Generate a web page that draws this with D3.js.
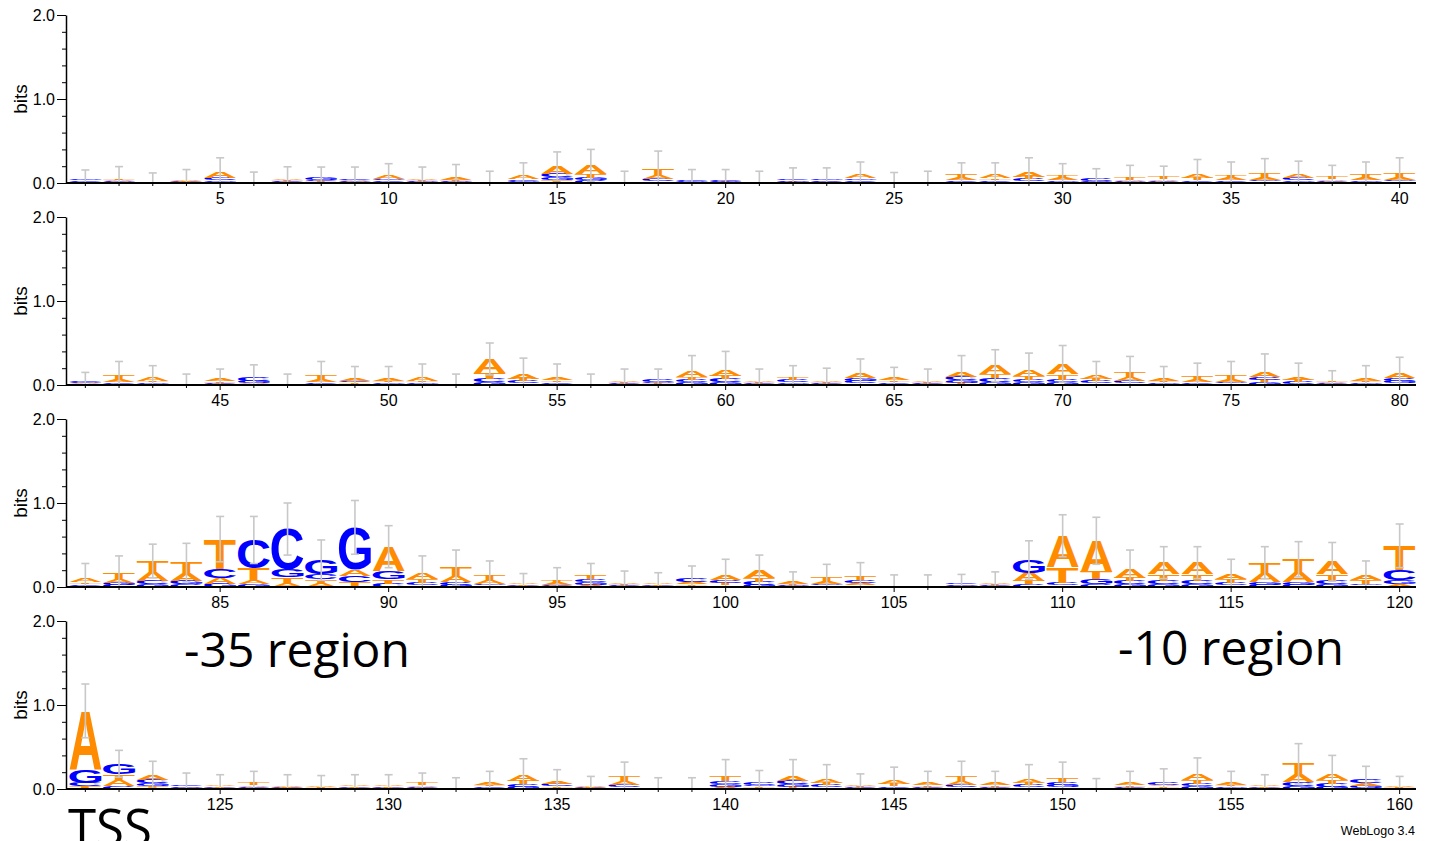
<!DOCTYPE html>
<html>
<head>
<meta charset="utf-8">
<script src="https://cdnjs.cloudflare.com/ajax/libs/d3/7.8.5/d3.min.js"></script>
<style>
    body { margin: 0; background: #fff; }
    svg { display: block; }
</style>
</head>
<body>
<div id="logo"></div>
<script>

// bits per letter, positions 1..160 (4 lines of 40)
var aBits = [
    .01,.015,.003,.015,.07,.003,.02,.01,.012,.04, .02,.025,.003,.045,.09,.1,.003,.05,.005,.006,
    .003,.008,.008,.045,.002,.004,.025,.045,.06,.025, .007,.02,.02,.05,.03,.03,.04,.02,.03,.035,
    .01,.035,.04,.003,.025,.015,.003,.035,.03,.03, .04,.003,.17,.065,.035,.003,.02,.01,.07,.08,
    .02,.015,.02,.06,.025,.02,.06,.1,.08,.12, .05,.045,.03,.025,.035,.065,.035,.012,.025,.06,
    .045,.05,.1,.09,.07,.04,.04,.04,.08,.29, .08,.07,.045,.02,.025,.025,.02,.02,.03,.065,
    .085,.025,.03,.025,.001,.001,.008,.02,.1,.37, .37,.11,.14,.14,.06,.11,.12,.15,.06,.035,
    .7,.07,.06,.008,.02,.02,.015,.012,.02,.02, .02,.001,.03,.07,.03,.015,.045,.001,.001,.025,
    .015,.065,.05,.02,.04,.025,.045,.025,.05,.02, .001,.025,.02,.075,.03,.02,.09,.08,.03,.012
];
var cBits = [
    .02,.01,.003,.008,.025,.003,.01,.015,.02,.02, .01,.01,.003,.02,.045,.03,.003,.025,.012,.018,
    .003,.02,.015,.02,.001,.002,.02,.02,.025,.015, .025,.01,.013,.02,.02,.02,.025,.015,.015,.02,
    .02,.02,.015,.003,.015,.04,.003,.02,.02,.015, .015,.003,.04,.025,.02,.003,.01,.025,.035,.04,
    .015,.025,.015,.025,.02,.01,.04,.045,.035,.035, .025,.03,.015,.02,.02,.035,.025,.01,.015,.035,
    .02,.025,.04,.03,.11,.34,.48,.06,.07,.04, .03,.035,.02,.008,.015,.035,.015,.008,.04,.035,
    .04,.01,.02,.035,.001,.001,.02,.015,.03,.03, .03,.04,.04,.04,.03,.025,.025,.04,.02,.12,
    .04,.03,.045,.02,.008,.015,.007,.005,.008,.008, .015,.001,.02,.035,.025,.007,.03,.001,.001,.035,
    .03,.04,.025,.015,.02,.015,.025,.015,.025,.035, .001,.015,.03,.035,.015,.008,.045,.04,.04,.005
];
var gBits = [
    .02,.01,.002,.007,.02,.002,.008,.025,.01,.02, .01,.01,.002,.015,.035,.03,.002,.02,.008,.01,
    .002,.014,.02,.02,.001,.002,.015,.015,.02,.015, .012,.01,.012,.015,.015,.02,.02,.01,.015,.02,
    .012,.015,.015,.002,.01,.025,.002,.015,.015,.015, .015,.002,.03,.02,.015,.002,.008,.015,.03,.03,
    .01,.015,.01,.035,.015,.008,.035,.035,.03,.03, .02,.02,.015,.015,.02,.03,.015,.008,.015,.025,
    .015,.025,.03,.04,.04,.03,.09,.17,.5,.1, .02,.025,.02,.007,.01,.03,.01,.007,.015,.02,
    .025,.01,.02,.02,.001,.001,.015,.01,.15,.02, .06,.03,.03,.03,.02,.035,.035,.03,.02,.045,
    .16,.12,.035,.015,.007,.01,.006,.005,.007,.007, .01,.001,.01,.025,.015,.006,.02,.001,.001,.03,
    .02,.03,.02,.01,.015,.01,.02,.01,.02,.03, .001,.01,.015,.03,.015,.007,.035,.025,.025,.005
];
var tBits = [
    .005,.02,.002,.01,.015,.002,.015,.01,.008,.01, .01,.015,.002,.01,.03,.05,.002,.075,.005,.006,
    .002,.008,.007,.015,.001,.002,.04,.02,.025,.035, .006,.03,.025,.025,.035,.05,.015,.025,.04,.045,
    .008,.05,.02,.002,.02,.01,.002,.05,.015,.02, .02,.002,.07,.03,.02,.002,.012,.01,.035,.04,
    .015,.035,.015,.02,.02,.012,.025,.05,.045,.065, .025,.065,.02,.04,.045,.03,.025,.02,.015,.02,
    .02,.07,.14,.13,.35,.15,.08,.05,.06,.05, .04,.1,.055,.015,.03,.04,.015,.015,.015,.03,
    .04,.015,.04,.05,.001,.001,.007,.015,.04,.19, .09,.04,.08,.08,.04,.12,.15,.08,.04,.29,
    .03,.08,.03,.007,.015,.025,.012,.008,.015,.015, .025,.001,.02,.04,.02,.012,.055,.001,.001,.06,
    .015,.025,.025,.015,.025,.02,.06,.02,.025,.045, .001,.02,.015,.04,.02,.015,.13,.045,.015,.008
];
// half-length of the error bar
var errBits = [
    .1,.14,.11,.12,.17,.12,.14,.13,.14,.14, .14,.16,.13,.15,.17,.19,.13,.21,.13,.12,
    .13,.13,.13,.15,.12,.13,.14,.14,.17,.14, .12,.14,.13,.17,.15,.17,.16,.14,.15,.18,
    .1,.16,.14,.12,.12,.15,.12,.16,.14,.14, .16,.12,.19,.18,.16,.12,.14,.13,.18,.21,
    .13,.14,.14,.17,.13,.14,.19,.19,.19,.22, .16,.18,.14,.16,.16,.21,.16,.12,.16,.19,
    .18,.2,.2,.23,.27,.28,.31,.24,.32,.25, .2,.21,.17,.11,.15,.15,.13,.12,.15,.18,
    .19,.12,.16,.16,.14,.14,.1,.12,.23,.25, .28,.22,.19,.19,.18,.19,.21,.23,.17,.26,
    .32,.16,.16,.14,.12,.14,.13,.13,.12,.12, .12,.13,.13,.19,.14,.11,.17,.13,.13,.2,
    .14,.19,.17,.12,.16,.14,.18,.14,.17,.19, .12,.14,.16,.19,.13,.12,.24,.21,.16,.12
];

var letters = ['A', 'C', 'G', 'T'];
var yTicks = [0, 1, 2];
var notes = ['-35 region', '-10 region', 'TSS'];
var footer = 'WebLogo 3.4';

var colors = { A: '#ff8c00', T: '#ff8c00', C: '#0000ff', G: '#0000ff' };
var bitsOf = { A: aBits, C: cBits, G: gBits, T: tBits };

var perRow = 40;
var nRows = aBits.length / perRow;
var rowTop = 15, rowStep = 202, rowH = 168;

var svg = d3.select('#logo')
    .append('svg')
        .attr('width', 1431)
        .attr('height', 841)
        .style('font-family', '"Liberation Sans", Arial, sans-serif');

var x = d3.scaleBand()
    .domain(d3.range(perRow))
    .range([68.5, 1416.5]);

var y = d3.scaleLinear()
    .domain([0, 2])
    .range([rowH, 0]);

// tight glyph boxes so every letter fills its cell
var ctx = document.createElement('canvas').getContext('2d');
ctx.font = 'bold 100px "Liberation Sans"';
var glyph = {};
letters.forEach(function(l) {
    var m = ctx.measureText(l);
    var b = {
        left: m.actualBoundingBoxLeft,
        right: m.actualBoundingBoxRight,
        top: m.actualBoundingBoxAscent,
        bottom: m.actualBoundingBoxDescent
    };
    if (!(b.left + b.right > 0) || !(b.top + b.bottom > 0)) {
        b = { left: 0, right: 70, top: 72, bottom: 0 };
    }
    glyph[l] = b;
});

function letterTransform(l, x0, y0, w, h) {
    var b = glyph[l];
    var sx = w / (b.left + b.right);
    var sy = h / (b.top + b.bottom);
    return 'translate(' + x0 + ',' + y0 + ') scale(' + sx + ',' + sy + ') translate(' + b.left + ',' + b.top + ')';
}

var lw = x.bandwidth() * 0.95;

for (var r = 0; r < nRows; r++) {
    var row = svg.append('g')
        .attr('transform', 'translate(0,' + (rowTop + r * rowStep) + ')');

    // stacks: smallest at the bottom
    var stacks = d3.range(perRow).map(function(k) {
        var i = r * perRow + k;
        var items = letters.map(function(l) { return { l: l, v: bitsOf[l][i] }; })
            .sort(function(a, b) { return a.v - b.v; });
        var acc = 0;
        items.forEach(function(d) { d.y0 = acc; acc += d.v; d.y1 = acc; d.k = k; });
        return { k: k, pos: i + 1, items: items, total: acc, err: errBits[i] };
    });

    row.selectAll('.stack')
        .data(stacks)
        .enter()
        .append('g')
        .classed('stack', true)
        .selectAll('text')
        .data(function(d) { return d.items.filter(function(e) { return y(0) - y(e.v) > 0.05; }); })
        .enter()
        .append('text')
            .text(function(d) { return d.l; })
            .attr('x', 0)
            .attr('y', 0)
            .style('font-size', '100px')
            .style('font-weight', 'bold')
            .attr('fill', function(d) { return colors[d.l]; })
            .attr('transform', function(d) {
                var x0 = x(d.k) + (x.bandwidth() - lw) / 2;
                return letterTransform(d.l, x0, y(d.y1), lw, y(d.y0) - y(d.y1));
            });

    // error bars on top of the letters
    var eb = row.selectAll('.err')
        .data(stacks)
        .enter()
        .append('g')
        .classed('err', true)
        .attr('transform', function(d) { return 'translate(' + (x(d.k) + x.bandwidth() / 2) + ',0)'; })
        .style('stroke', '#c8c8c8')
        .style('stroke-width', 1.6);

    eb.append('line')
        .attr('y1', function(d) { return y(Math.max(0, d.total - d.err)); })
        .attr('y2', function(d) { return y(d.total + d.err); });
    eb.append('line')
        .attr('x1', -4).attr('x2', 4)
        .attr('y1', function(d) { return y(d.total + d.err); })
        .attr('y2', function(d) { return y(d.total + d.err); });
    eb.append('line')
        .attr('x1', -4).attr('x2', 4)
        .attr('y1', function(d) { return y(Math.max(0, d.total - d.err)); })
        .attr('y2', function(d) { return y(Math.max(0, d.total - d.err)); });

    // y axis
    var yMinor = row.append('g')
        .attr('transform', 'translate(66,0)')
        .call(d3.axisLeft(y).tickValues(d3.range(0, 2.01, 0.2)).tickSize(4).tickSizeOuter(0).tickFormat(''));
    yMinor.select('.domain').style('stroke-width', 1.5);

    row.append('g')
        .attr('transform', 'translate(66,0)')
        .call(d3.axisLeft(y).tickValues(yTicks).tickSize(9).tickPadding(2).tickFormat(d3.format('.1f')))
        .call(function(g) { g.select('.domain').remove(); })
        .selectAll('text')
            .style('font-size', '16px')
            .style('font-family', '"Liberation Sans", Arial, sans-serif')
            .attr('fill', '#000');

    // x axis
    var xa = row.append('g')
        .attr('transform', 'translate(0,' + rowH + ')')
        .call(d3.axisBottom(x).tickSize(3).tickPadding(7)
            .tickFormat(function(k) {
                var p = r * perRow + k + 1;
                return p % 5 === 0 ? p : '';
            }))
        .call(function(g) { g.select('.domain').remove(); });
    xa.selectAll('.tick line')
        .attr('y2', function(k) { return (r * perRow + k + 1) % 5 === 0 ? 5 : 3; });
    xa.selectAll('text')
        .style('font-size', '16px')
        .style('font-family', '"Liberation Sans", Arial, sans-serif')
        .attr('fill', '#000');

    row.append('line')
        .attr('x1', 66).attr('x2', 1416)
        .attr('y1', rowH).attr('y2', rowH)
        .style('stroke', '#000')
        .style('stroke-width', 1.8);

    row.append('text')
        .text('bits')
        .attr('transform', 'translate(27,' + (rowH / 2) + ') rotate(-90)')
        .attr('text-anchor', 'middle')
        .style('font-size', '19px');
}

// annotations
var notePlace = [
    { x: 184, y: 667, size: 48 },
    { x: 1118, y: 665, size: 48 },
    { x: 68, y: 846, size: 51 }
];
svg.selectAll('.note')
    .data(notes)
    .enter()
    .append('text')
    .classed('note', true)
    .text(function(d) { return d; })
    .attr('x', function(d, i) { return notePlace[i].x; })
    .attr('y', function(d, i) { return notePlace[i].y; })
    .style('font-family', '"Open Sans", "Noto Sans", sans-serif')
    .style('font-size', function(d, i) { return notePlace[i].size + 'px'; })
    .attr('fill', '#000');

svg.append('text')
    .text(footer)
    .attr('x', 1415)
    .attr('y', 835)
    .attr('text-anchor', 'end')
    .style('font-size', '12.5px');

</script>
</body>
</html>
